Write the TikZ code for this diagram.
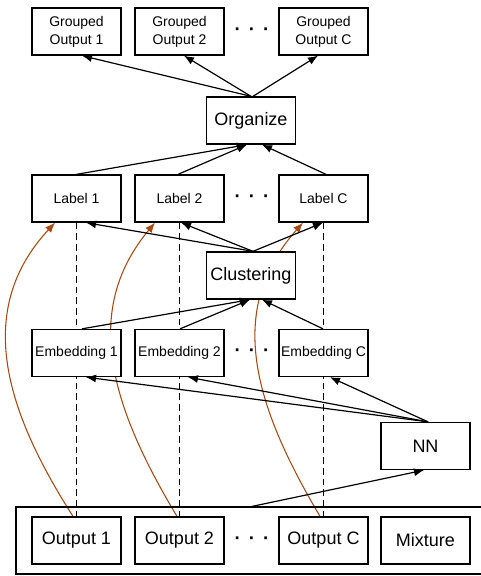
\documentclass[tikz,border=0pt]{standalone}
\usepackage{fontspec}
\setmainfont{Liberation Sans}
\usetikzlibrary{arrows.meta,calc,backgrounds}
\definecolor{curv}{RGB}{170,72,16}
\newcommand{\mydots}{\textbf{·}\hspace{6pt}\textbf{·}\hspace{6pt}\textbf{·}}
\begin{document}
\begin{tikzpicture}[x=0.75pt,y=-0.75pt,
 box/.style={draw,line width=1pt,fill=white,minimum width=66.75pt,minimum height=35.25pt,inner sep=0pt,align=center},
 sm/.style={font=\fontsize{10.5}{13.5}\selectfont},
 lg/.style={font=\fontsize{13.5}{16}\selectfont},
 arr/.style={line width=0.9pt,-{Latex[length=7.5pt,width=6pt]}},
 carr/.style={draw=curv,line width=0.8pt,-{Latex[length=7.5pt,width=6pt]}},
 dsh/.style={line width=0.9pt,dash pattern=on 5pt off 3pt},
 dotsn/.style={font=\fontsize{14}{16}\selectfont,inner sep=0pt}]
\useasboundingbox (0,0) rectangle (481,576);
% top row
\node[box,sm] (g1) at (76.5,31.5) {Grouped\\Output 1};
\node[box,sm] (g2) at (179.5,31.5) {Grouped\\Output 2};
\node[box,sm] (gC) at (323.5,31.5) {Grouped\\Output C};
\node[dotsn] (gd) at (252,31.5) {\mydots};
\node[box,lg] (org) at (251,120.5) {Organize};
% labels
\node[box,sm] (l1) at (76.5,198.5) {Label 1};
\node[box,sm] (l2) at (179.5,198.5) {Label 2};
\node[box,sm] (lC) at (323.5,198.5) {Label C};
\node[dotsn] (ld) at (252,198.5) {\mydots};
\node[box,lg] (cl) at (251,275.5) {Clustering};
% embeddings
\node[box,sm] (e1) at (76.5,353) {Embedding 1};
\node[box,sm] (e2) at (179.5,353) {Embedding 2};
\node[box,sm] (eC) at (323.5,353) {Embedding C};
\node[dotsn] (ed) at (252,353) {\mydots};
\node[box,lg] (nn) at (425.5,446) {NN};
% bottom
\node[draw,line width=1pt,minimum width=363pt,minimum height=50.25pt,inner sep=0pt] (mixbox) at (258,540.5) {};
\node[box,lg] (o1) at (76.5,540.5) {Output 1};
\node[box,lg] (o2) at (179.5,540.5) {Output 2};
\node[box,lg] (oC) at (323.5,540.5) {Output C};
\node[dotsn] (od) at (252,540.5) {\mydots};
\node[box,lg] (mix) at (425.5,540.5) {Mixture};
% background: dashed and curves
\begin{scope}[on background layer]
\draw[dsh] (l1.south) -- (o1.north);
\draw[dsh] (l2.south) -- (o2.north);
\draw[dsh] (lC.south) -- (oC.north);
\draw[carr] ($(o1.north)+(-3.5,0)$) .. controls (5,410) and (-26,310) .. ($(l1.south)+(-21.5,0)$);
\draw[carr] ($(o2.north)+(-2.5,0)$) .. controls (110,405) and (82,310) .. ($(l2.south)+(-24.5,0)$);
\draw[carr] ($(oC.north)+(-3.5,0)$) .. controls (254,405) and (225,310) .. ($(lC.south)+(-20.5,0)$);
\end{scope}
% arrows
\draw[arr] (org.north) -- ($(g1.south)+(5.5,0)$);
\draw[arr] (org.north) -- ($(g2.south)+(4.5,0)$);
\draw[arr] ($(org.north)+(2,0)$) -- ($(gC.south)+(-5.5,0)$);
\draw[arr] (l1.north) -- ($(org.south)+(-4,0)$);
\draw[arr] ($(l2.north)+(-1.5,0)$) -- ($(org.south)+(-4,0)$);
\draw[arr] ($(lC.north)+(2.5,0)$) -- ($(org.south)+(11,0)$);
\draw[arr] ($(cl.north)+(2,0)$) -- ($(l1.south)+(9.5,0)$);
\draw[arr] ($(cl.north)+(2,0)$) -- ($(l2.south)+(1.5,0)$);
\draw[arr] ($(cl.north)+(2,0)$) -- ($(lC.south)+(-0.5,0)$);
\draw[arr] ($(e1.north)+(5.5,0)$) -- ($(cl.south)+(-1,0)$);
\draw[arr] ($(e2.north)+(0.5,0)$) -- ($(cl.south)+(-1,0)$);
\draw[arr] ($(eC.north)+(-0.5,0)$) -- ($(cl.south)+(11,0)$);
\draw[arr] ($(nn.north)+(2.5,0)$) -- ($(e1.south)+(9.5,0)$);
\draw[arr] ($(nn.north)+(2.5,0)$) -- ($(e2.south)+(8.5,0)$);
\draw[arr] ($(nn.north)+(2.5,0)$) -- ($(eC.south)+(6.5,0)$);
\draw[arr] ($(mixbox.north west)+(237,0)$) -- ($(nn.south)+(-1.5,0)$);
\end{tikzpicture}
\end{document}
